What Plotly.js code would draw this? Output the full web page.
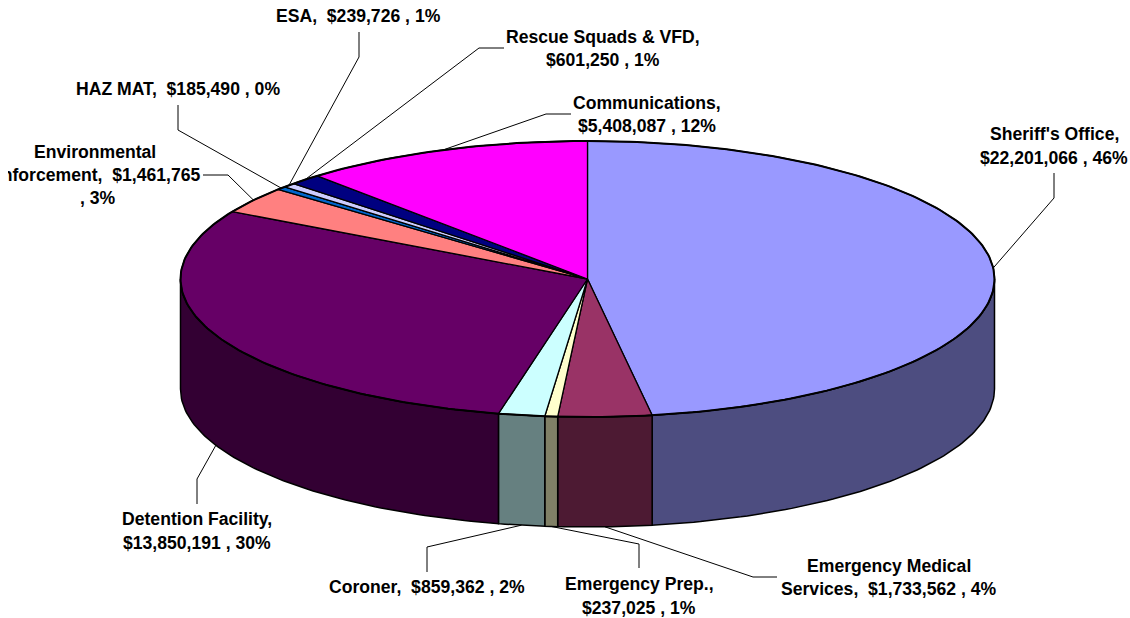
<!DOCTYPE html>
<html><head><meta charset="utf-8">
<script src="https://cdn.plot.ly/plotly-3.0.1.min.js"></script>
<style>html,body{margin:0;padding:0;background:#fff;overflow:hidden}#c{position:absolute;left:8px;top:0;width:1122px;height:618px}</style>
</head><body><div id="c"></div>
<script>
// Data, clockwise from 12 o'clock
const categories = ["Sheriff's Office","Emergency Medical Services","Emergency Prep.","Coroner","Detention Facility","Environmental Enforcement","HAZ MAT","ESA","Rescue Squads & VFD","Communications"];
const values = [22201066,1733562,237025,859362,13850191,1461765,185490,239726,601250,5408087];
const labelLines = [
  ["Sheriff's Office,","$22,201,066 , 46%"],
  ["Emergency Medical","Services,\u00a0 $1,733,562 , 4%"],
  ["Emergency Prep.,","$237,025 , 1%"],
  ["Coroner,\u00a0 $859,362 , 2%"],
  ["Detention Facility,","$13,850,191 , 30%"],
  ["Environmental","Enforcement,\u00a0 $1,461,765","\u00a0, 3%"],
  ["HAZ MAT,\u00a0 $185,490 , 0%"],
  ["ESA,\u00a0 $239,726 , 1%"],
  ["Rescue Squads & VFD,","$601,250 , 1%"],
  ["Communications,","$5,408,087 , 12%"]
];
// Styles and placement
const topColors = ["#9999FF","#993366","#FFFFCC","#CCFFFF","#660066","#FF8080","#0066CC","#CCCCFF","#000080","#FF00FF"];
const sideColors = ["#4D4D80","#4D1A33","#808066","#668080","#330033","#804040","#003366","#666680","#000040","#800080"];
const labelX = [[1054,1054],[889,889],[639,639],[427],[197,197],[95,95,95],[178],[358],[603,603],[647,647]];
const labelY = [[134,158],[566,589],[584,608],[587],[519,543],[152,175,198],[89],[16],[37,60],[103,126]];
const leaderX = [[1054,1054],[777,753],[639,639],[427,427],[197,197],[203,228],[178,178],[359,359],[504,479],[571,546]];
const leaderY = [[173,198],[577,577],[568,544],[572,547],[504,479],[175,175],[105,130],[32,57],[48,48],[114,114]];
const cx = 587.5, cy = 279, rx = 407, ry = 138, depth = 110;

const total = values.reduce((a,b)=>a+b,0);
const rad = d => d*Math.PI/180;
const px = d => cx + rx*Math.sin(rad(d));
const py = d => cy - ry*Math.cos(rad(d));
function arc(a0,a1){const out=[];const n=Math.max(2,Math.ceil(Math.abs(a1-a0)));for(let i=0;i<=n;i++)out.push(a0+(a1-a0)*i/n);return out;}

let start = 0; const spans = values.map(v=>{const s=[start,start+v/total*360];start=s[1];return s;});
const traces = [];
const base = {type:'scatter',mode:'lines',fill:'toself',hoverinfo:'skip',showlegend:false};
spans.forEach((s,i)=>{
  const a0=Math.max(s[0],90),a1=Math.min(s[1],270);
  if(a1>a0){
    const f=arc(a0,a1),b=f.slice().reverse();
    traces.push({...base,fillcolor:sideColors[i],line:{color:'#000',width:1.5},
      x:f.map(px).concat(b.map(px),[px(a0)]),
      y:f.map(d=>py(d)).concat(b.map(d=>py(d)+depth),[py(a0)])});
  }
});
spans.forEach((s,i)=>{
  const f=arc(s[0],s[1]);
  traces.push({...base,fillcolor:topColors[i],line:{color:'#000',width:1.3},
    x:[cx].concat(f.map(px),[cx]),y:[cy].concat(f.map(py),[cy])});
});
const rim=arc(0,360);
traces.push({type:'scatter',mode:'lines',hoverinfo:'skip',showlegend:false,line:{color:'#000',width:2},x:rim.map(px),y:rim.map(py)});
spans.forEach((s,i)=>{
  const m=(s[0]+s[1])/2, front=m>90&&m<270;
  traces.push({type:'scatter',mode:'lines',hoverinfo:'skip',showlegend:false,line:{color:'#000',width:1},
    x:leaderX[i].concat([px(m)]),y:leaderY[i].concat([py(m)+(front?depth:0)])});
});
const annotations=[];
labelLines.forEach((ls,i)=>ls.forEach((t,j)=>annotations.push({
  text:t,x:labelX[i][j],y:labelY[i][j],xref:'x',yref:'y',showarrow:false,xanchor:'center',yanchor:'middle',
  font:{family:'"Liberation Sans",Arial,sans-serif',size:17.6,color:'#000',weight:700}
})));
Plotly.newPlot('c',traces,{
  width:1122,height:618,margin:{l:0,r:0,t:0,b:0},paper_bgcolor:'#fff',plot_bgcolor:'#fff',showlegend:false,
  xaxis:{range:[8,1130],visible:false,fixedrange:true},
  yaxis:{range:[618,0],visible:false,fixedrange:true},
  annotations
},{staticPlot:true,displayModeBar:false});
</script></body></html>
